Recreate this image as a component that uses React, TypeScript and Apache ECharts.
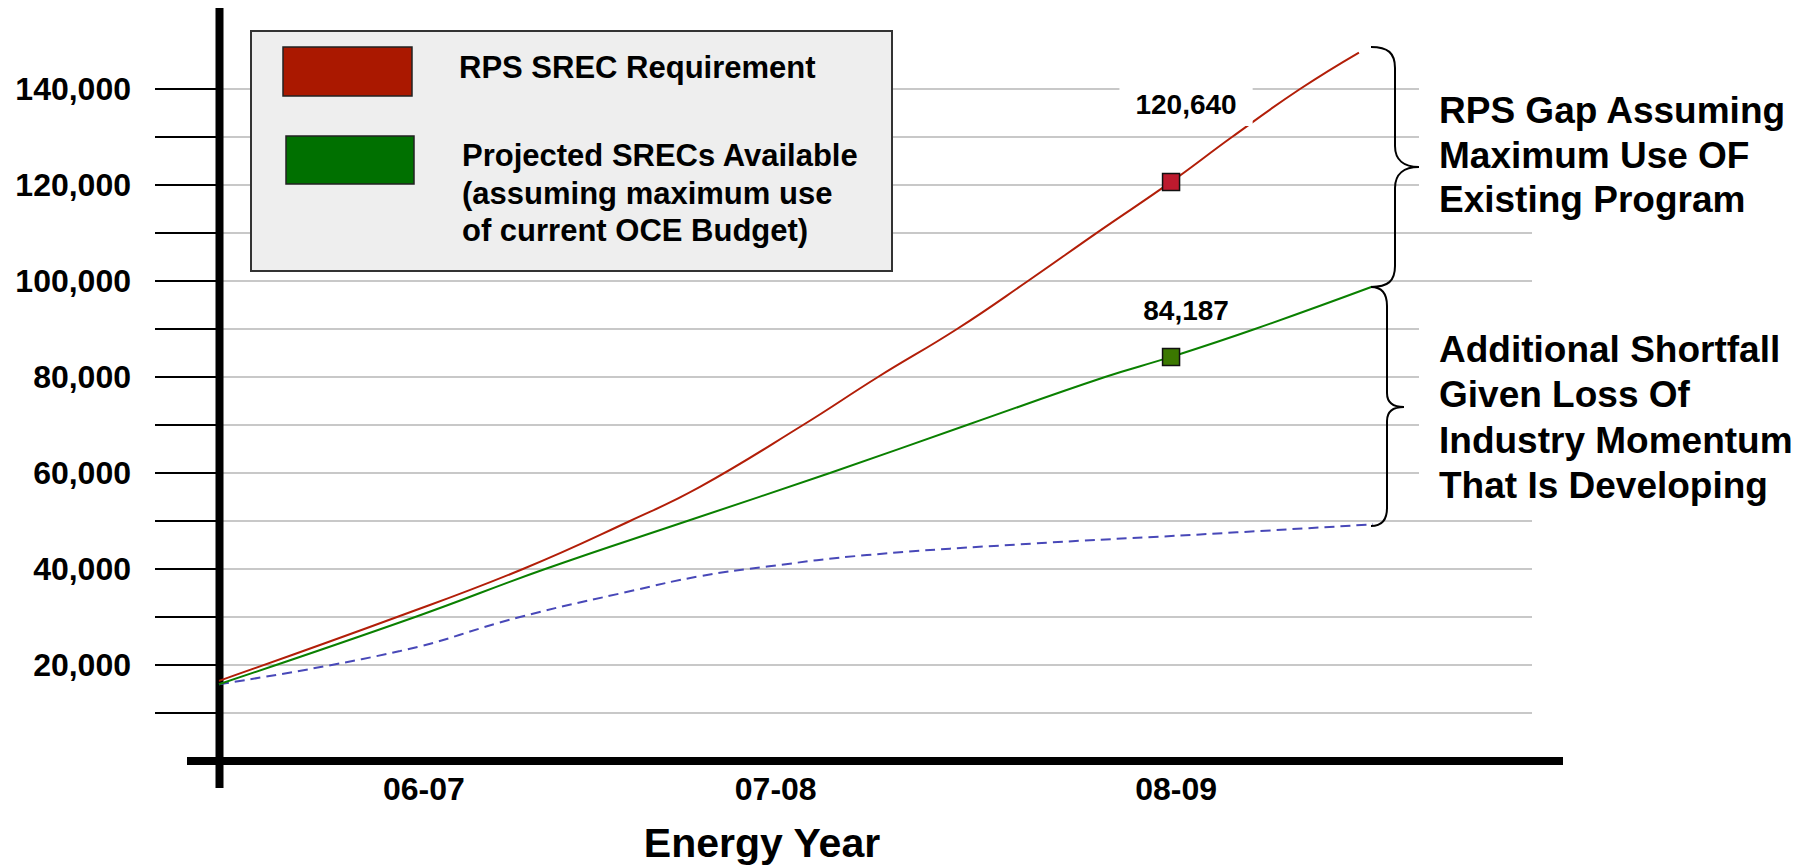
import React, { useEffect, useRef } from 'react';
import * as echarts from 'echarts';

// ---------- data ----------
// x is a position along the energy-year axis, 0..100 across the plot area
const X_LABELS = ['06-07', '07-08', '08-09'];
const X_LABEL_POS = [15.6, 42.4, 72.9];

const Y_TICK_VALUES = [10000, 20000, 30000, 40000, 50000, 60000, 70000, 80000, 90000, 100000, 110000, 120000, 130000, 140000];
const Y_LABEL_VALUES = [20000, 40000, 60000, 80000, 100000, 120000, 140000];

const REQ_NAME = 'RPS SREC Requirement';
const REQ_X = [0, 13.56, 23.15, 31.3, 36.63, 44.48, 50.19, 56.21, 61.61, 67.1, 72.51, 77.15, 82.33, 86.82];
const REQ_Y = [16700, 30000, 40000, 50000, 57100, 70000, 80000, 90000, 100000, 110500, 120640, 130000, 140000, 147600];
const REQ_MARK = 10;

const AVAIL_NAME = 'Projected SRECs Available (assuming maximum use of current OCE Budget)';
const AVAIL_X = [0, 14.94, 24.84, 35.66, 46.53, 56.97, 67.48, 72.51, 78.9, 87.81];
const AVAIL_Y = [16000, 30000, 40000, 50000, 60000, 70000, 80000, 84187, 90000, 98800];
const AVAIL_MARK = 7;

const MOM_NAME = 'Without Industry Momentum';
const MOM_X = [0, 13.79, 22.92, 31.53, 36.63, 41.74, 49.35, 62.0, 74.72, 87.89];
const MOM_Y = [16000, 22900, 30000, 35500, 38500, 40500, 42900, 45300, 47200, 49300];

const GAP_TEXT = ['RPS Gap Assuming', 'Maximum Use OF', 'Existing Program'];
const SHORTFALL_TEXT = ['Additional Shortfall', 'Given Loss Of', 'Industry Momentum', 'That Is Developing'];
const LEGEND_TEXT_2 = ['Projected SRECs Available', '(assuming maximum use', 'of current OCE Budget)'];

// ---------- styles ----------
const FONT = "'Liberation Sans', Arial, Helvetica, sans-serif";
const RED_LINE = '#b21e08';
const RED_SWATCH = '#aa1800';
const RED_MARK = '#bd1a2e';
const GREEN_LINE = '#0a8000';
const GREEN_SWATCH = '#007000';
const GREEN_MARK = '#3b7800';
const BLUE_LINE = '#4848b8';

echarts.graphic.registerShape(
  'braceUpper',
  echarts.graphic.extendPath(
    'M1371 47 C1388 47 1395 53 1395 68 L1395 146 C1395 160 1404 167 1419 167 C1404 167 1395 174 1395 188 L1395 266 C1395 281 1388 287 1371 287',
    {}
  )
);
echarts.graphic.registerShape(
  'braceLower',
  echarts.graphic.extendPath(
    'M1371 287 C1382 287 1387 293 1387 306 L1387 393 C1387 402 1393 407 1404 407 C1393 407 1387 412 1387 421 L1387 508 C1387 520 1382 526 1371 526',
    {}
  )
);

function buildData(xs: number[], ys: number[], markIdx: number, markColor: string, offset: number[], padding: number[]) {
  return xs.map((x, i) => {
    if (i === markIdx) {
      return {
        value: [x, ys[i]],
        symbol: 'rect',
        symbolSize: 17,
        itemStyle: { color: markColor, borderColor: '#111', borderWidth: 1.5 },
        label: {
          show: true,
          position: 'inside',
          offset,
          formatter: (p: any) => Number(p.value[1]).toLocaleString('en-US'),
          fontSize: 28,
          fontWeight: 'bold',
          fontFamily: FONT,
          color: '#000',
          backgroundColor: '#ffffff',
          padding,
        },
      };
    }
    return { value: [x, ys[i]], symbol: 'none' };
  });
}

export default function App() {
  const ref = useRef<HTMLDivElement>(null);

  useEffect(() => {
    if (!ref.current) return;
    const chart = echarts.init(ref.current, undefined, { renderer: 'svg' });

    const momData = MOM_X.map((x, i) => [x, MOM_Y[i]]);

    const option: any = {
      animation: false,
      backgroundColor: '#ffffff',
      grid: { left: 219, right: 281, top: 89, bottom: 107, containLabel: false },
      xAxis: {
        type: 'value',
        min: 0,
        max: 100,
        axisLine: { show: false },
        axisTick: { show: false },
        splitLine: { show: false },
        axisLabel: {
          customValues: X_LABEL_POS,
          formatter: (v: number) => {
            const i = X_LABEL_POS.findIndex((p) => Math.abs(p - v) < 0.01);
            return i >= 0 ? X_LABELS[i] : '';
          },
          margin: 12,
          fontSize: 32,
          fontWeight: 'bold',
          fontFamily: FONT,
          color: '#000',
        },
      },
      yAxis: {
        type: 'value',
        min: 0,
        max: 140000,
        interval: 10000,
        axisLine: { show: false },
        axisTick: {
          show: true,
          length: 64,
          customValues: Y_TICK_VALUES,
          lineStyle: { color: '#000', width: 2 },
        },
        axisLabel: {
          customValues: Y_LABEL_VALUES,
          formatter: (v: number) => Number(v).toLocaleString('en-US'),
          margin: 88,
          fontSize: 32,
          fontWeight: 'bold',
          fontFamily: FONT,
          color: '#000',
        },
        splitLine: { show: true, lineStyle: { color: '#c8c8c8', width: 2 } },
      },
      series: [
        {
          name: MOM_NAME,
          type: 'line',
          data: momData,
          symbol: 'none',
          smooth: 0.45,
          clip: false,
          lineStyle: { color: BLUE_LINE, width: 2, type: [10, 6] },
          z: 2,
        },
        {
          name: AVAIL_NAME,
          type: 'line',
          data: buildData(AVAIL_X, AVAIL_Y, AVAIL_MARK, GREEN_MARK, [15, -46], [3, 14]),
          showSymbol: true,
          symbol: 'rect',
          smooth: 0.45,
          clip: false,
          lineStyle: { color: GREEN_LINE, width: 2 },
          itemStyle: { color: GREEN_MARK },
          z: 3,
        },
        {
          name: REQ_NAME,
          type: 'line',
          data: buildData(REQ_X, REQ_Y, REQ_MARK, RED_MARK, [15, -77], [7, 16]),
          showSymbol: true,
          symbol: 'rect',
          smooth: 0.45,
          clip: false,
          lineStyle: { color: RED_LINE, width: 2 },
          itemStyle: { color: RED_MARK },
          z: 4,
        },
      ],
      graphic: [
        // white backing behind the right-hand annotations
        { type: 'rect', z: 1, shape: { x: 1419, y: 76, width: 394, height: 132 }, style: { fill: '#ffffff' } },
        { type: 'rect', z: 1, shape: { x: 1419, y: 300, width: 394, height: 200 }, style: { fill: '#ffffff' } },
        // heavy axes
        { type: 'line', z: 1, shape: { x1: 219.5, y1: 8, x2: 219.5, y2: 788 }, style: { stroke: '#000', lineWidth: 8 } },
        { type: 'line', z: 1, shape: { x1: 187, y1: 761, x2: 1563, y2: 761 }, style: { stroke: '#000', lineWidth: 8 } },
        // braces
        { type: 'braceUpper', z: 5, x: 0, y: 0, style: { fill: 'none', stroke: '#000', lineWidth: 2 } },
        { type: 'braceLower', z: 5, x: 0, y: 0, style: { fill: 'none', stroke: '#000', lineWidth: 2 } },
        // annotations
        {
          type: 'text', z: 5, x: 1439, y: 88.5,
          style: {
            text: GAP_TEXT.join('\n'), fontSize: 37, fontWeight: 'bold', fontFamily: FONT,
            fill: '#000', align: 'left', verticalAlign: 'top', lineHeight: 44.5,
          },
        },
        {
          type: 'text', z: 5, x: 1439, y: 327,
          style: {
            text: SHORTFALL_TEXT.join('\n'), fontSize: 37, fontWeight: 'bold', fontFamily: FONT,
            fill: '#000', align: 'left', verticalAlign: 'top', lineHeight: 45.3,
          },
        },
        // legend
        { type: 'rect', z: 5, shape: { x: 251, y: 31, width: 641, height: 240 }, style: { fill: '#eeeeee', stroke: '#333', lineWidth: 2 } },
        { type: 'rect', z: 6, shape: { x: 283, y: 47, width: 129, height: 49 }, style: { fill: RED_SWATCH, stroke: '#222', lineWidth: 1.5 } },
        { type: 'rect', z: 6, shape: { x: 286, y: 136, width: 128, height: 48 }, style: { fill: GREEN_SWATCH, stroke: '#222', lineWidth: 1.5 } },
        {
          type: 'text', z: 6, x: 459, y: 67,
          style: { text: REQ_NAME, fontSize: 31, fontWeight: 'bold', fontFamily: FONT, fill: '#000', align: 'left', verticalAlign: 'middle' },
        },
        {
          type: 'text', z: 6, x: 462, y: 137,
          style: {
            text: LEGEND_TEXT_2.join('\n'), fontSize: 31, fontWeight: 'bold', fontFamily: FONT,
            fill: '#000', align: 'left', verticalAlign: 'top', lineHeight: 37.5,
          },
        },
        // axis title
        {
          type: 'text', z: 5, x: 762, y: 843,
          style: { text: 'Energy Year', fontSize: 41, fontWeight: 'bold', fontFamily: FONT, fill: '#000', align: 'center', verticalAlign: 'middle' },
        },
      ],
    };

    chart.setOption(option);
    return () => chart.dispose();
  }, []);

  return (
    <div
      ref={ref}
      style={{ position: 'absolute', left: 0, top: 0, width: 1813, height: 868, background: '#fff' }}
    />
  );
}
